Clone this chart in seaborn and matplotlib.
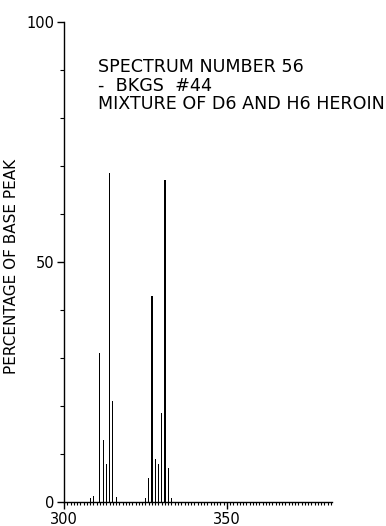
import numpy as np
import pandas as pd
import matplotlib
matplotlib.use('Agg')
import matplotlib.pyplot as plt
import seaborn as sns
from matplotlib.ticker import MultipleLocator, FixedLocator

# m/z values and relative intensities (% of base peak)
mz = [308, 309, 311, 312, 313, 314, 315, 316,
      325, 326, 327, 328, 329, 330, 331, 332, 333]
pct = [0.8, 1.2, 31, 13, 8, 68.5, 21, 1.0,
       0.8, 5, 43, 9, 8, 18.5, 67, 7, 0.8]

x_labels = [300, 350]
y_labels = [0, 50, 100]
title_lines = ["SPECTRUM NUMBER 56", "-  BKGS  #44", "MIXTURE OF D6 AND H6 HEROIN"]

sns.set_style('ticks')
plt.rcParams['font.family'] = ['DejaVu Sans']
plt.rcParams['text.color'] = 'black'
plt.rcParams['xtick.color'] = 'black'
plt.rcParams['ytick.color'] = 'black'
plt.rcParams['axes.labelcolor'] = 'black'

spec = pd.DataFrame({'mz': mz, 'pct': pct})

fig = plt.figure(figsize=(3.86, 5.26), dpi=100)
ax = fig.add_axes([0.166, 0.0456, 0.694, 0.9124])

sns.histplot(data=spec, x='mz', weights='pct', discrete=True, shrink=0.35,
             color='black', edgecolor=None, linewidth=0, alpha=1, ax=ax)

ax.set_xlim(300, 382.3)
ax.set_ylim(0, 100)
sns.despine(ax=ax)
for s in ('left', 'bottom'):
    ax.spines[s].set_linewidth(1.0)
    ax.spines[s].set_color('black')

ax.xaxis.set_major_locator(FixedLocator(x_labels))
ax.xaxis.set_minor_locator(MultipleLocator(1))
ax.yaxis.set_major_locator(FixedLocator(y_labels))
ax.yaxis.set_minor_locator(MultipleLocator(10))
ax.tick_params(axis='both', which='major', length=5, width=1,
               labelsize=10.5, pad=2)
ax.tick_params(axis='x', which='minor', length=2, width=0.8)
ax.tick_params(axis='y', which='minor', length=3, width=0.8)

ax.set_xlabel('')
ax.set_ylabel('PERCENTAGE OF BASE PEAK', fontsize=11)
ax.yaxis.set_label_coords(-0.17, 0.49)

for i, line in enumerate(title_lines):
    ax.text(0.127, 0.906 - i * 0.0385, line, transform=ax.transAxes,
            fontsize=12.6, ha='left', va='center')

fig.savefig('out.png', dpi=100)
